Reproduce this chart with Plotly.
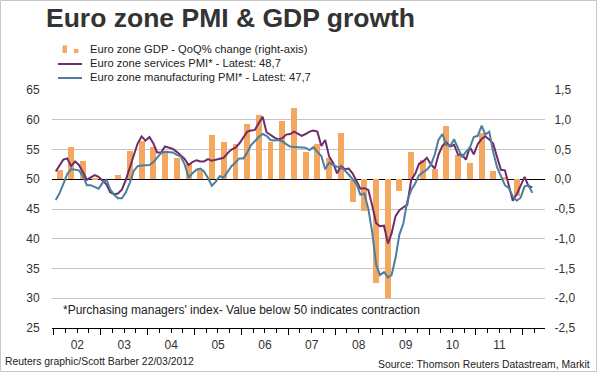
import plotly.graph_objects as go

# ---------------- data ----------------
services_pmi = [
    51.3, 52.3, 53.3, 53.5, 52.2, 53.0, 52.4, 51.2, 49.9, 50.3, 50.7, 50.4,   # 2002
    49.8, 49.1, 47.8, 47.5, 47.6, 48.3, 49.9, 52.0, 54.0, 56.0, 57.2, 56.5,   # 2003
    57.1, 56.0, 54.5, 54.5, 55.5, 55.3, 55.1, 54.6, 54.0, 53.4, 52.4, 52.9,   # 2004
    53.2, 53.0, 53.0, 53.4, 53.1, 53.3, 53.5, 53.6, 54.4, 55.0, 55.3, 56.0,   # 2005
    57.0, 58.0, 58.2, 58.3, 59.4, 60.5, 57.9, 57.4, 57.0, 56.7, 56.9, 57.5,   # 2006
    57.6, 58.0, 57.6, 57.3, 57.6, 58.0, 58.2, 58.0, 55.6, 56.6, 53.8, 52.8,   # 2007
    51.0, 52.2, 51.7, 51.8, 51.0, 49.6, 48.4, 48.5, 48.2, 45.6, 42.6, 42.1,   # 2008
    42.2, 39.2, 40.9, 43.8, 44.8, 45.3, 45.7, 49.9, 50.9, 52.6, 53.0, 53.6,   # 2009
    52.5, 51.8, 54.1, 55.6, 56.2, 55.5, 55.8, 54.1, 54.1, 53.3, 55.4, 54.2,   # 2010
    55.9, 56.8, 57.2, 56.7, 56.0, 53.7, 51.6, 51.5, 48.8, 46.4, 47.5, 48.8,   # 2011
    50.4, 48.8, 48.7,                                                         # 2012
]
manufacturing_pmi = [
    46.5, 47.7, 49.2, 50.9, 51.7, 51.6, 51.5, 50.5, 49.0, 49.0, 48.7, 48.4,   # 2002
    49.4, 49.9, 48.3, 47.4, 46.8, 46.8, 47.8, 49.4, 51.4, 52.2, 52.3, 52.4,   # 2003
    52.4, 52.9, 53.7, 54.4, 54.6, 54.5, 54.5, 54.1, 53.8, 52.5, 50.3, 51.0,   # 2004
    51.6, 51.8, 51.3, 50.2, 48.9, 49.6, 50.5, 50.3, 51.2, 52.2, 52.8, 53.5,   # 2005
    53.5, 54.5, 55.7, 56.4, 57.1, 57.6, 57.3, 56.6, 56.5, 56.6, 56.4, 55.9,   # 2006
    55.5, 55.4, 55.4, 55.3, 55.3, 54.9, 55.4, 54.6, 53.9, 51.7, 52.8, 52.4,   # 2007
    52.1, 52.0, 51.5, 50.8, 50.1, 49.2, 47.4, 47.6, 45.0, 41.1, 35.6, 33.9,   # 2008
    34.4, 33.5, 33.9, 36.8, 40.7, 42.6, 46.3, 48.2, 49.3, 50.7, 51.2, 51.6,   # 2009
    52.4, 54.2, 56.6, 57.6, 55.8, 55.6, 56.7, 55.1, 53.7, 54.6, 55.3, 57.1,   # 2010
    57.3, 59.0, 57.5, 58.0, 54.6, 52.0, 50.4, 49.0, 48.5, 47.1, 46.4, 46.9,   # 2011
    48.8, 49.0, 47.7,                                                         # 2012
]
gdp_qoq = [
    0.15, 0.55, 0.30, 0.02,    # 2002
    0.00, 0.07, 0.47, 0.65,    # 2003
    0.55, 0.45, 0.35, 0.28,    # 2004
    0.15, 0.74, 0.63, 0.60,    # 2005
    0.93, 1.08, 0.63, 0.98,    # 2006
    1.19, 0.46, 0.60, 0.35,    # 2007
    0.77, -0.39, -0.53, -1.75, # 2008
    -2.00, -0.20, 0.45, 0.33,  # 2009
    0.17, 0.90, 0.41, 0.27,    # 2010
    0.77, 0.14, 0.03, -0.28,   # 2011
]
start_year = 2002
month_dates = [f"{start_year + i // 12}-{i % 12 + 1:02d}-15" for i in range(len(services_pmi))]
quarter_dates = [f"{start_year + i // 4}-{3 * (i % 4) + 2:02d}-15" for i in range(len(gdp_qoq))]

pmi_ticks = [25, 30, 35, 40, 45, 50, 55, 60, 65]
gdp_ticks = [-2.5, -2.0, -1.5, -1.0, -0.5, 0.0, 0.5, 1.0, 1.5]
gdp_ticktext = [f"{v:.1f}".replace(".", ",") for v in gdp_ticks]

# ---------------- layout helpers ----------------
W, H = 597, 372
L, R, T, B = 52, 545, 90, 328

def px(x):
    return (x - L) / (R - L)

def py(y):
    return (B - y) / (B - T)

FONT = "Liberation Sans, Arial, sans-serif"
ORANGE = "#F4A75E"
PURPLE = "#6F2C6C"
BLUE = "#4C7E9E"
TXT = "#333333"

fig = go.Figure()
fig.add_trace(go.Bar(
    x=quarter_dates, y=gdp_qoq, yaxis="y", marker=dict(color=ORANGE, line=dict(width=0)),
    width=46 * 86400000, name="Euro zone GDP - QoQ% change (right-axis)",
))
fig.add_trace(go.Scatter(
    x=month_dates, y=services_pmi, yaxis="y2", mode="lines",
    line=dict(color=PURPLE, width=2), name="Euro zone services PMI* - Latest: 48,7",
))
fig.add_trace(go.Scatter(
    x=month_dates, y=manufacturing_pmi, yaxis="y2", mode="lines",
    line=dict(color=BLUE, width=2), name="Euro zone manufacturing PMI* - Latest: 47,7",
))

fig.update_layout(
    width=W, height=H,
    margin=dict(l=L, r=W - R, t=T, b=H - B, pad=0),
    paper_bgcolor="white", plot_bgcolor="white",
    showlegend=False,
    font=dict(family=FONT, size=12, color=TXT),
    xaxis=dict(
        type="date", range=["2001-12-17", "2012-06-22"],
        showgrid=False, zeroline=False,
        showline=True, linecolor="black", linewidth=1,
        tick0="2002-01-01", dtick="M12", tickformat="%y", ticklabelmode="period",
        ticks="outside", ticklen=6, tickcolor="black", tickwidth=1,
        minor=dict(dtick="M3", ticks="outside", ticklen=4, tickcolor="black", tickwidth=1),
        tickfont=dict(size=12, color=TXT),
    ),
    yaxis=dict(
        side="right", range=[-2.5, 1.5], tickvals=gdp_ticks, ticktext=gdp_ticktext,
        showgrid=True, gridcolor="#C4C4C4", gridwidth=1,
        zeroline=True, zerolinecolor="black", zerolinewidth=1,
        showline=False, ticks="outside", ticklen=6, tickcolor="rgba(0,0,0,0)",
        tickfont=dict(size=12, color=TXT),
    ),
    yaxis2=dict(
        overlaying="y", side="left", range=[25, 65], tickvals=pmi_ticks,
        showgrid=False, zeroline=False, showline=False,
        ticks="outside", ticklen=9, tickcolor="rgba(0,0,0,0)",
        tickfont=dict(size=12, color=TXT),
    ),
    bargap=0,
)

# title
fig.add_annotation(text="Euro zone PMI & GDP growth", xref="paper", yref="paper",
                   x=px(44), y=py(18), xanchor="left", yanchor="middle", showarrow=False,
                   font=dict(family=FONT, size=26.5, color="#333333", weight="bold"))

# custom legend
legend_rows = [
    ("Euro zone GDP - QoQ% change (right-axis)", 49.5),
    ("Euro zone services PMI* - Latest: 48,7", 63.5),
    ("Euro zone manufacturing PMI* - Latest: 47,7", 77.5),
]
for txt, yc in legend_rows:
    fig.add_annotation(text=txt, xref="paper", yref="paper", x=px(88), y=py(yc),
                       xanchor="left", yanchor="middle", showarrow=False,
                       font=dict(family=FONT, size=11.2, color="#222222"))
shapes = [
    dict(type="rect", xref="paper", yref="paper", x0=px(62.5), x1=px(67), y0=py(53), y1=py(45.5),
         fillcolor=ORANGE, line=dict(width=0)),
    dict(type="rect", xref="paper", yref="paper", x0=px(74), x1=px(78.5), y0=py(53), y1=py(49),
         fillcolor=ORANGE, line=dict(width=0)),
    dict(type="line", xref="paper", yref="paper", x0=px(58), x1=px(82), y0=py(64), y1=py(64),
         line=dict(color=PURPLE, width=2)),
    dict(type="line", xref="paper", yref="paper", x0=px(58), x1=px(82), y0=py(78), y1=py(78),
         line=dict(color=BLUE, width=2)),
    dict(type="rect", xref="paper", yref="paper", x0=px(0.5), x1=px(596.5), y0=py(371.5), y1=py(0.5),
         line=dict(color="#C8C8C8", width=1), fillcolor="rgba(0,0,0,0)", layer="above"),
]
fig.update_layout(shapes=shapes)

# footnote & credits
fig.add_annotation(text="*Purchasing managers' index- Value below 50 indicates contraction",
                   xref="paper", yref="paper", x=px(61), y=py(310), xanchor="left", yanchor="middle",
                   showarrow=False, font=dict(family=FONT, size=12, color="#222222"))
fig.add_annotation(text="Reuters graphic/Scott Barber 22/03/2012", xref="paper", yref="paper",
                   x=px(3), y=py(361), xanchor="left", yanchor="middle", showarrow=False,
                   font=dict(family=FONT, size=10.4, color="#222222"))
fig.add_annotation(text="Source: Thomson Reuters Datastream, Markit", xref="paper", yref="paper",
                   x=px(592), y=py(364), xanchor="right", yanchor="middle", showarrow=False,
                   font=dict(family=FONT, size=10.4, color="#222222"))

fig.write_html("out.html", config={"displayModeBar": False})

# remove the browser's default body margin so the figure sits at the page origin
with open("out.html", "r", encoding="utf-8") as f:
    html = f.read()
html = html.replace("<head>", "<head><style>html,body{margin:0;padding:0;overflow:hidden;}</style>", 1)
with open("out.html", "w", encoding="utf-8") as f:
    f.write(html)
